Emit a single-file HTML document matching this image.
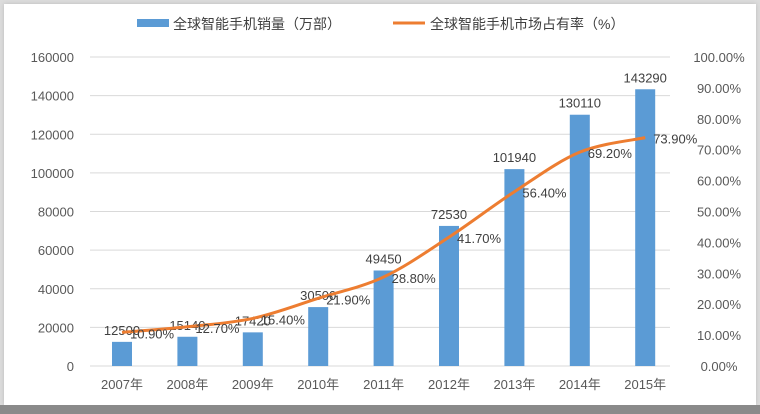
<!DOCTYPE html>
<html><head><meta charset="utf-8">
<style>
body{margin:0;width:760px;height:414px;background:#dcdcdc;overflow:hidden;font-family:"Liberation Sans","Noto Sans CJK SC",sans-serif;}
#panel{position:absolute;left:4px;top:4px;width:752px;height:401px;background:#fff;box-shadow:0 0 4px #bbb;}
#bottom{position:absolute;left:0;top:405px;width:760px;height:9px;background:#8a8a8a;}
</style></head>
<body>
<div id="panel"></div>
<div id="bottom"></div>
<svg id="chart" width="760" height="414" style="position:absolute;left:0;top:0"></svg>
<script>
const categories=["2007年","2008年","2009年","2010年","2011年","2012年","2013年","2014年","2015年"];
const sales=[12500,15140,17420,30500,49450,72530,101940,130110,143290];
const share=[10.9,12.7,15.4,21.9,28.8,41.7,56.4,69.2,73.9];
const leftTicks=[0,20000,40000,60000,80000,100000,120000,140000,160000];
const rightTicks=[0,10,20,30,40,50,60,70,80,90,100];
const NS="http://www.w3.org/2000/svg";
const svg=document.getElementById('chart');
const x0=90,x1=670,yB=366,yT=57;
const yL=v=>yB-(v/160000)*(yB-yT);
const yR=v=>yB-(v/100)*(yB-yT);
const xc=i=>122+65.4*i;
function el(t,a,txt){const e=document.createElementNS(NS,t);for(const k in a)e.setAttribute(k,a[k]);if(txt!==undefined)e.textContent=txt;svg.appendChild(e);return e;}
leftTicks.forEach(v=>{
 const g=el('line',{x1:x0,x2:x1,y1:yL(v),y2:yL(v),stroke:'#d9d9d9','stroke-width':1});
 
 
 const t=el('text',{x:74,y:yL(v)+5,'text-anchor':'end','font-size':13,fill:'#595959'},String(v));
 
 
});
rightTicks.forEach(v=>{
 const t=el('text',{x:719,y:yR(v)+5,'text-anchor':'middle','font-size':13,fill:'#595959'},v.toFixed(2)+'%');
 
 
});
categories.forEach((c,i)=>{
 const b=el('rect',{x:xc(i)-10,y:yL(sales[i]),width:20,height:yB-yL(sales[i]),fill:'#5b9bd5'});
 
 
 const t=el('text',{x:xc(i),y:yL(sales[i])-7,'text-anchor':'middle','font-size':13,fill:'#404040'},String(sales[i]));
 
 
 const xl=el('text',{x:xc(i),y:389,'text-anchor':'middle','font-size':13,fill:'#595959'},c);
 
 
});
const pts=share.map((v,i)=>[xc(i),yR(v)]);
let d='M'+pts[0][0]+','+pts[0][1];
for(let i=0;i<pts.length-1;i++){
 const p0=pts[Math.max(i-1,0)],p1=pts[i],p2=pts[i+1],p3=pts[Math.min(i+2,pts.length-1)];
 const c1=[p1[0]+(p2[0]-p0[0])/6,p1[1]+(p2[1]-p0[1])/6];
 const c2=[p2[0]-(p3[0]-p1[0])/6,p2[1]-(p3[1]-p1[1])/6];
 d+=' C'+c1[0]+','+c1[1]+' '+c2[0]+','+c2[1]+' '+p2[0]+','+p2[1];
}
const line=el('path',{d:d,fill:'none',stroke:'#ed7d31','stroke-width':3,'stroke-linejoin':'round'});


share.forEach((v,i)=>{
 const t=el('text',{x:xc(i)+8,y:yR(v)+6,'font-size':13,fill:'#404040'},v.toFixed(2)+'%');
 
 
});
const l1=el('rect',{x:137,y:19,width:32,height:8,fill:'#5b9bd5'});


const l1t=el('text',{x:173,y:29,'font-size':14,fill:'#404040'},'全球智能手机销量（万部）');


const l2=el('line',{x1:393,x2:425,y1:23,y2:23,stroke:'#ed7d31','stroke-width':3});


const l2t=el('text',{x:430,y:29,'font-size':14,fill:'#404040'},'全球智能手机市场占有率（%）');


</script>
</body></html>
